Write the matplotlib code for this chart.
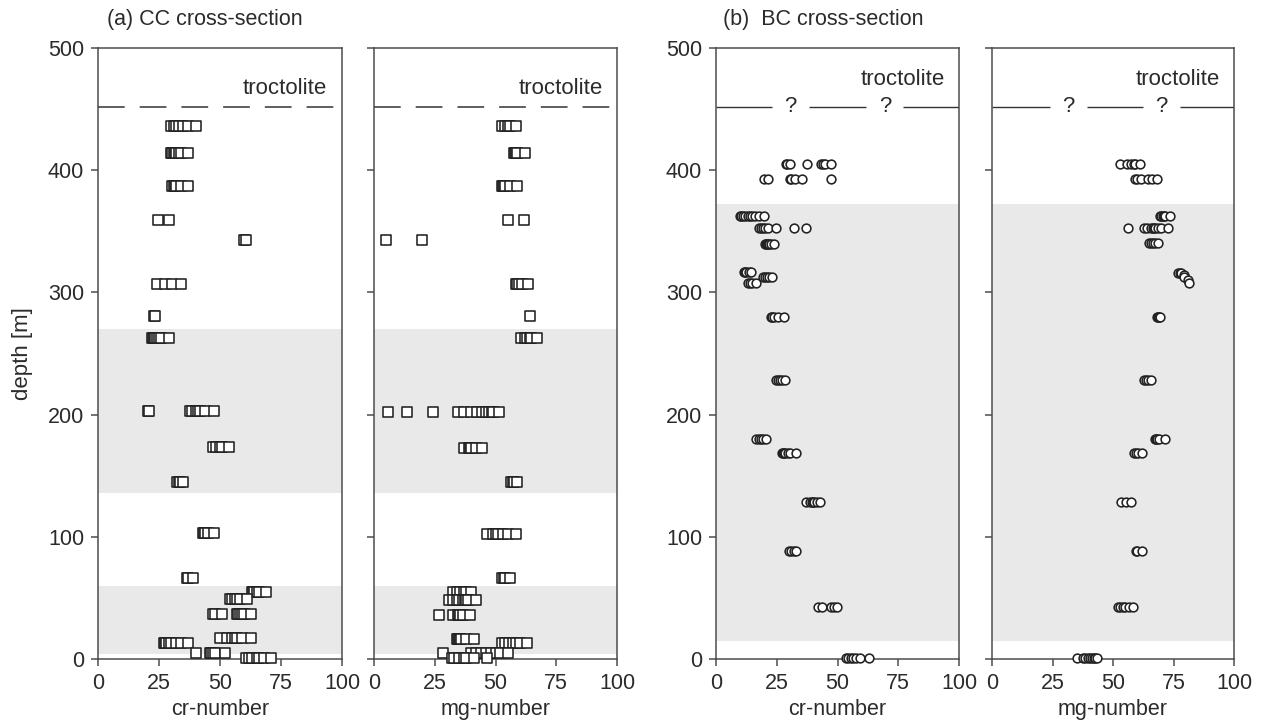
import matplotlib
matplotlib.use("Agg")
import matplotlib.pyplot as plt

plt.rcParams['font.family'] = ['Liberation Sans', 'DejaVu Sans']

# ---------------------------------------------------------------------------
# CC cross-section: cr-number by depth (m)
cc_cr_depth = ([436] * 7 + [414] * 8 + [387] * 6 + [359] * 2 + [343] * 2 +
               [307] * 4 + [281] * 2 + [263] * 8 + [203] * 9 + [173.5] * 5 +
               [145] * 4 + [103] * 5 + [66] * 3 + [55] * 6 + [49] * 6 +
               [37] * 9 + [17] * 7 + [13] * 8 + [5] * 6 + [1] * 7)
cc_cr = [30, 31, 32, 33, 35, 37, 40,
         30, 30.5, 31, 31.5, 32, 33, 34, 37,
         30.5, 31, 31.5, 32, 34, 37,
         24.5, 29,
         60, 60.8,
         24, 27.5, 30.5, 34,
         23, 23.3,
         22, 22.5, 23, 23.5, 24, 25, 26, 29,
         20.5, 21, 37.5, 38.5, 40, 41, 42, 44, 47.7,
         47, 48.5, 50, 51, 53.5,
         32.5, 33, 33.5, 35,
         43, 43.5, 44, 45, 47.7,
         36.5, 37, 39,
         63, 63.5, 64, 65, 66, 69,
         54, 55, 56, 57, 58, 61,
         47, 48, 51, 56.8, 57.5, 58, 59, 60, 62.5,
         50, 53, 55, 56, 57, 59, 62.5,
         27, 27.5, 28, 29, 30, 32, 34, 37,
         40, 46, 46.5, 47, 48, 52,
         60.5, 62, 63, 65, 66, 68, 71]

# CC cross-section: mg-number by depth (m)
cc_mg_depth = ([436] * 5 + [414] * 5 + [387] * 6 + [359] * 2 + [343] * 2 +
               [307] * 5 + [281] * 1 + [263] * 6 + [202] * 13 + [173] * 6 +
               [145] * 4 + [102] * 7 + [66] * 4 + [55] * 6 + [48] * 9 +
               [36] * 7 + [16.5] * 7 + [13] * 7 + [5] * 9 + [0.5] * 7)
cc_mg = [52.5, 54, 55, 56, 58.5,
         57.5, 58, 58.5, 59, 62.3,
         52.5, 53, 53.5, 54, 56, 59,
         55.3, 61.9,
         5.1, 19.8,
         58.5, 59, 59.5, 61, 63.5,
         64,
         60.5, 62, 63, 64, 64.5, 67,
         5.6, 13.4, 24.1, 34.4, 37, 40, 42.5, 44.5, 46, 47.5, 48.5, 49, 51.6,
         37, 39, 39.5, 40, 42, 44.6,
         56.5, 57, 57.5, 59,
         46.3, 49, 50, 51, 53, 55, 58.6,
         52.5, 53.5, 54, 56,
         32.7, 34, 35.5, 37, 38, 40,
         31, 32.5, 34, 35, 36.5, 37.5, 38, 38.5, 42,
         26.9, 32.7, 34.5, 35, 35.5, 36.5, 39.7,
         34, 34.5, 35, 35.5, 36, 38, 41,
         52.5, 54, 55.5, 57, 58.5, 60, 62.8,
         28.2, 40, 42, 44, 46, 48, 50, 52, 55,
         32.3, 33, 35, 37, 38, 41, 46.3]

# BC cross-section: cr-number by depth (m)
bc_cr_depth = ([405] * 8 + [393] * 7 + [362.5] * 10 + [353] * 8 + [340] * 7 +
               [317] * 5 + [313] * 5 + [308] * 4 + [280] * 5 + [228] * 5 +
               [180] * 5 + [168.5] * 7 + [128.5] * 7 + [88] * 4 +
               [42.5] * 5 + [0.5] * 7)
bc_cr = [28.8, 29.3, 30.5, 37.6, 43.2, 44, 45, 47.5,
         19.9, 21.5, 30.3, 31, 32.5, 35.3, 47.3,
         9.7, 10.3, 11, 12, 13, 14, 15, 16, 17.5, 19.7,
         17.9, 18.5, 19.2, 20, 21.5, 24.5, 32.1, 37,
         20, 20.5, 21, 21.5, 22, 22.5, 24,
         11.5, 12, 12.5, 13.5, 14.6,
         19.3, 20, 21, 22, 23.1,
         13.1, 14, 15, 16.3,
         22.7, 23.2, 24, 25.5, 27.9,
         24.8, 25.5, 26.5, 27.3, 28.3,
         16.5, 17.5, 18.5, 19.5, 20.7,
         27.1, 27.5, 28, 28.5, 29.5, 30.5, 33,
         37.1, 38.5, 39.5, 40, 40.5, 41.5, 42.6,
         30, 31, 32, 33.1,
         41.9, 43.5, 47.4, 48.5, 49.6,
         53.6, 54.5, 55.5, 56.5, 57.5, 59.4, 62.9]

# BC cross-section: mg-number by depth (m)
bc_mg_depth = ([405] * 6 + [393] * 6 + [362.5] * 6 + [353] * 10 + [340.5] * 5 +
               [315.5, 315.5, 316, 314.5, 312.5, 310, 308] +
               [280] * 4 + [228] * 4 + [180] * 5 + [168.5] * 4 +
               [128.5] * 3 + [88] * 3 + [42.5] * 6 + [0.5] * 9)
bc_mg = [52.7, 55.7, 57.5, 58.5, 59.2, 61.1,
         58.9, 60, 61.5, 64.5, 66, 68.3,
         69.6, 70, 70.5, 71, 71.5, 73.5,
         56.3, 62.7, 64, 65.5, 66.5, 67, 67.5, 68.5, 70, 72.8,
         64.8, 65.5, 66.5, 67.5, 68.7,
         76.8, 77.5, 78.3, 79.3, 79.5, 80.8, 81.5,
         68, 68.5, 69, 69.6,
         63, 63.5, 64.5, 65.8,
         67.4, 67.8, 68.3, 69, 71.4,
         58.6, 59.5, 60.5, 61.8,
         53.4, 55.5, 57.6,
         59.3, 60, 61.8,
         52, 53, 54, 55, 56.5, 58.2,
         35.2, 37.5, 38.5, 39.5, 40.5, 41.5, 42, 42.5, 43.5]

# shaded depth intervals (m) and the troctolite contact
cc_bands = [(4, 60), (136, 270)]
bc_bands = [(15, 372)]
contact_depth = 452
x_ticks = [0, 25, 50, 75, 100]
y_ticks = [0, 100, 200, 300, 400, 500]

# ---------------------------------------------------------------------------
TEXT = '#2b2b2b'
EDGE = '#222222'
SPINE = '#4d4d4d'
BAND = '#e9e9e9'

W, H = 1262, 722
fig = plt.figure(figsize=(W / 100, H / 100), dpi=100)


def make_axes(left, right, top=48, bottom=659):
    return fig.add_axes([left / W, (H - bottom) / H,
                         (right - left) / W, (bottom - top) / H])


def style_axes(ax, show_ylabels):
    ax.set_xlim(0, 100)
    ax.set_ylim(0, 500)
    ax.set_xticks(x_ticks)
    ax.set_yticks(y_ticks)
    for sp in ax.spines.values():
        sp.set_color(SPINE)
        sp.set_linewidth(1.1)
    ax.tick_params(direction='out', length=5, width=1.1, color=SPINE,
                   labelsize=15.5, labelcolor=TEXT, pad=5)
    ax.tick_params(axis='y', labelleft=show_ylabels)


def draw_points(ax, values, depths, marker, size):
    ax.scatter(values, depths, marker=marker, s=size ** 2, facecolor='white',
               edgecolor=EDGE, linewidths=1.15, clip_on=False, zorder=3)


def dashed_contact(ax):
    ax.axhline(contact_depth, color='#333333', lw=1.1,
               linestyle=(0, (17.5, 9.8)), zorder=2)


def queried_contact(ax, q_positions, half_gap=7.6):
    edges = [0]
    for q in q_positions:
        edges += [q - half_gap, q + half_gap]
    edges.append(100)
    for a, b in zip(edges[0::2], edges[1::2]):
        ax.plot([a, b], [contact_depth, contact_depth], color='#333333',
                lw=1.0, zorder=2, solid_capstyle='butt')
    for q in q_positions:
        ax.text(q, contact_depth, '?', ha='center', va='center',
                fontsize=16, color=TEXT)


panels = [
    (98, 342, cc_cr, cc_cr_depth, 's', 7.2, 'cr-number', cc_bands, True, 'cc', None, 467),
    (374, 617, cc_mg, cc_mg_depth, 's', 7.2, 'mg-number', cc_bands, False, 'cc', None, 467),
    (716, 959, bc_cr, bc_cr_depth, 'o', 6.3, 'cr-number', bc_bands, True, 'bc', [30.5, 69.5], 474),
    (992, 1234, bc_mg, bc_mg_depth, 'o', 6.3, 'mg-number', bc_bands, False, 'bc', [31.6, 70.0], 474),
]

for (left, right, vals, deps, marker, msize, xlabel, bands, ylab,
     kind, qpos, label_depth) in panels:
    ax = make_axes(left, right)
    style_axes(ax, ylab)
    for lo, hi in bands:
        ax.axhspan(lo, hi, color=BAND, lw=0, zorder=0)
    if kind == 'cc':
        dashed_contact(ax)
    else:
        queried_contact(ax, qpos)
    ax.text(94, label_depth, 'troctolite', ha='right', va='center',
            fontsize=16, color=TEXT)
    draw_points(ax, vals, deps, marker, msize)
    ax.set_xlabel(xlabel, fontsize=15.5, color=TEXT, labelpad=4)
    if ylab and kind == 'cc':
        ax.set_ylabel('depth [m]', fontsize=16, color=TEXT)
        ax.yaxis.set_label_coords(-0.265, 0.5)

fig.text(107 / W, 1 - 20 / H, '(a) CC cross-section', fontsize=15.5,
         color=TEXT, ha='left', va='center')
fig.text(723 / W, 1 - 20 / H, '(b)  BC cross-section', fontsize=15.5,
         color=TEXT, ha='left', va='center')

fig.savefig('out.png', dpi=100)
